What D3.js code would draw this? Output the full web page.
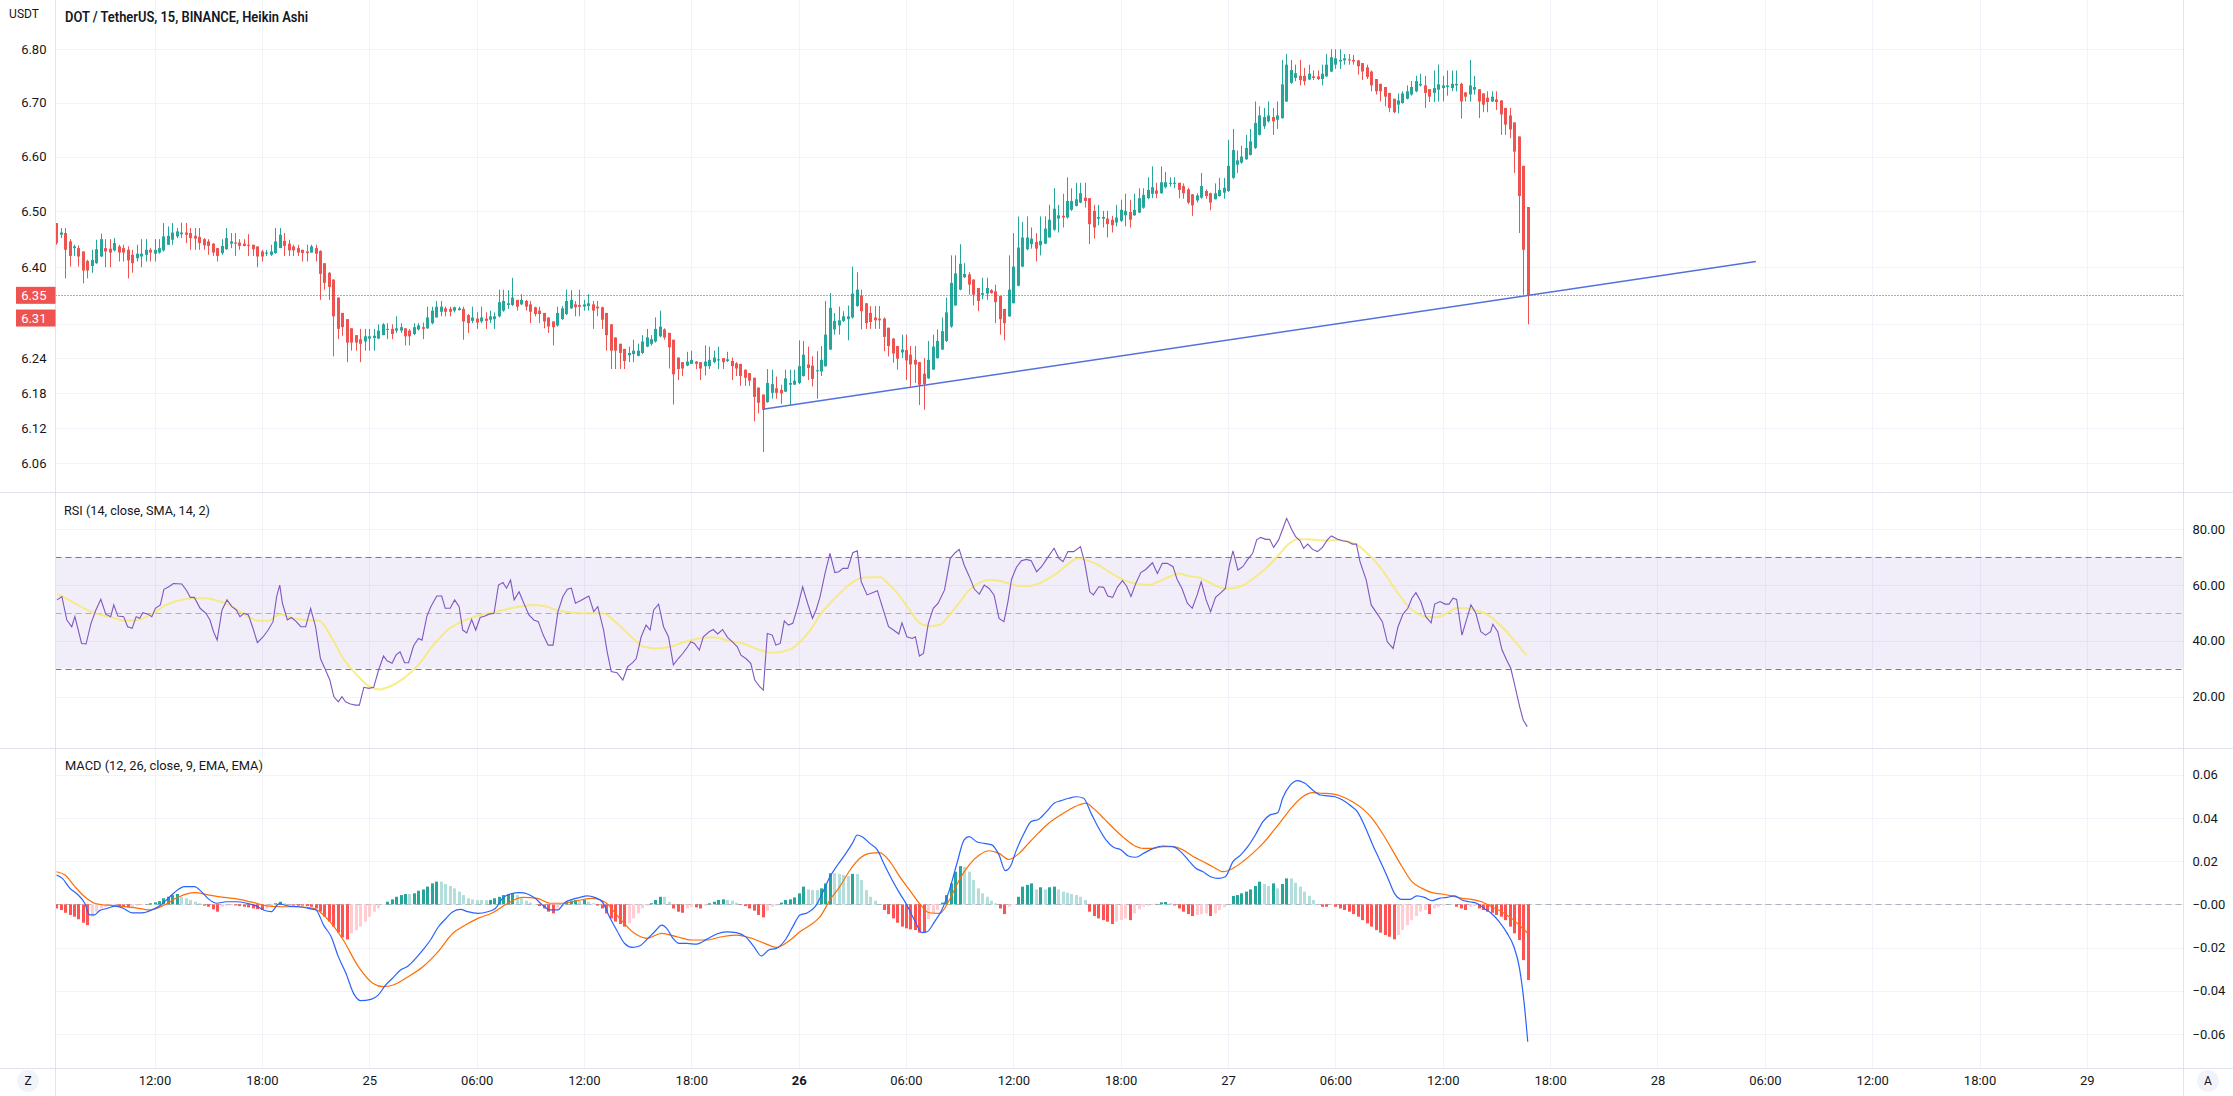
<!DOCTYPE html>
<html>
<head>
<meta charset="utf-8">
<script src="https://cdn.jsdelivr.net/npm/d3@7"></script>
<style>
  body { margin: 0; background: #fff; }
  svg { display: block; }
</style>
</head>
<body>
<svg id="chart"></svg>
<script>
// ---- data (Heikin Ashi, 15 min bars, first bar 24th 06:30) ----
const haOpen = [
  6.479,6.458,6.461,6.446,6.434,6.434,6.428,6.411,6.402,6.407,
  6.419,6.434,6.433,6.430,6.437,6.434,6.431,6.422,6.416,6.419,
  6.422,6.431,6.424,6.426,6.430,6.440,6.449,6.455,6.459,6.462,
  6.461,6.456,6.454,6.450,6.446,6.442,6.434,6.425,6.432,6.442,
  6.444,6.444,6.442,6.440,6.440,6.437,6.428,6.424,6.422,6.425,
  6.434,6.447,6.442,6.437,6.434,6.431,6.428,6.426,6.434,6.429,
  6.407,6.390,6.378,6.346,6.319,6.308,6.292,6.280,6.273,6.269,
  6.274,6.275,6.274,6.280,6.290,6.291,6.288,6.288,6.292,6.288,
  6.282,6.290,6.294,6.292,6.301,6.311,6.321,6.327,6.326,6.323,
  6.324,6.326,6.315,6.305,6.309,6.304,6.309,6.307,6.308,6.313,
  6.323,6.333,6.333,6.342,6.334,6.340,6.334,6.329,6.323,6.319,
  6.311,6.304,6.297,6.308,6.317,6.327,6.334,6.333,6.330,6.331,
  6.334,6.330,6.329,6.319,6.299,6.276,6.265,6.256,6.245,6.247,
  6.244,6.249,6.260,6.265,6.269,6.278,6.290,6.284,6.272,6.241,
  6.233,6.227,6.230,6.234,6.233,6.226,6.226,6.233,6.236,6.240,
  6.235,6.235,6.231,6.230,6.220,6.214,6.206,6.189,6.177,6.164,
  6.180,6.188,6.185,6.182,6.194,6.194,6.197,6.209,6.229,6.227,
  6.217,6.217,6.226,6.255,6.290,6.297,6.305,6.308,6.311,6.331,
  6.349,6.336,6.319,6.311,6.309,6.309,6.293,6.274,6.261,6.250,
  6.254,6.246,6.237,6.233,6.213,6.205,6.220,6.240,6.255,6.270,
  6.295,6.332,6.360,6.382,6.387,6.378,6.363,6.351,6.353,6.359,
  6.357,6.349,6.326,6.313,6.336,6.367,6.401,6.432,6.441,6.445,
  6.439,6.442,6.453,6.467,6.487,6.492,6.489,6.503,6.510,6.516,
  6.525,6.524,6.501,6.487,6.487,6.487,6.485,6.480,6.483,6.493,
  6.499,6.493,6.498,6.507,6.524,6.532,6.538,6.533,6.544,6.550,
  6.550,6.552,6.546,6.540,6.531,6.520,6.525,6.537,6.533,6.522,
  6.528,6.534,6.537,6.561,6.585,6.589,6.595,6.603,6.616,6.640,
  6.656,6.665,6.673,6.668,6.671,6.702,6.737,6.746,6.750,6.750,
  6.743,6.749,6.749,6.744,6.749,6.758,6.771,6.777,6.779,6.781,
  6.780,6.779,6.774,6.766,6.758,6.744,6.735,6.729,6.718,6.707,
  6.696,6.699,6.707,6.715,6.721,6.732,6.732,6.725,6.718,6.724,
  6.727,6.729,6.727,6.732,6.735,6.719,6.715,6.724,6.725,6.717,
  6.709,6.702,6.706,6.704,6.690,6.676,6.663,6.637,6.583,6.508
]
const haHigh = [
  6.479,6.470,6.470,6.450,6.440,6.439,6.428,6.413,6.431,6.449,
  6.460,6.450,6.450,6.452,6.440,6.440,6.437,6.431,6.440,6.450,
  6.450,6.434,6.450,6.450,6.479,6.473,6.479,6.470,6.480,6.479,
  6.470,6.470,6.470,6.452,6.450,6.443,6.434,6.450,6.470,6.461,
  6.461,6.450,6.450,6.459,6.440,6.437,6.431,6.431,6.440,6.470,
  6.470,6.461,6.449,6.440,6.440,6.431,6.440,6.440,6.440,6.430,
  6.407,6.391,6.378,6.346,6.319,6.308,6.292,6.280,6.291,6.291,
  6.291,6.291,6.299,6.301,6.301,6.299,6.313,6.301,6.292,6.291,
  6.301,6.301,6.302,6.330,6.330,6.340,6.340,6.330,6.330,6.330,
  6.330,6.330,6.317,6.330,6.320,6.330,6.320,6.323,6.320,6.360,
  6.360,6.359,6.381,6.342,6.352,6.342,6.340,6.330,6.330,6.319,
  6.311,6.304,6.330,6.331,6.360,6.359,6.340,6.360,6.342,6.352,
  6.340,6.340,6.330,6.319,6.299,6.276,6.265,6.256,6.260,6.272,
  6.265,6.280,6.291,6.280,6.311,6.323,6.292,6.284,6.272,6.241,
  6.233,6.251,6.253,6.235,6.233,6.262,6.260,6.253,6.260,6.240,
  6.251,6.241,6.233,6.230,6.220,6.214,6.206,6.189,6.177,6.221,
  6.220,6.208,6.194,6.220,6.220,6.220,6.271,6.270,6.260,6.243,
  6.252,6.261,6.340,6.354,6.319,6.330,6.322,6.332,6.401,6.391,
  6.360,6.336,6.331,6.331,6.331,6.311,6.293,6.275,6.261,6.281,
  6.281,6.261,6.261,6.233,6.240,6.270,6.281,6.290,6.311,6.346,
  6.421,6.421,6.441,6.407,6.391,6.378,6.363,6.381,6.381,6.361,
  6.369,6.349,6.326,6.421,6.461,6.491,6.481,6.491,6.471,6.461,
  6.491,6.491,6.512,6.542,6.512,6.532,6.562,6.542,6.552,6.552,
  6.552,6.524,6.512,6.512,6.501,6.501,6.492,6.512,6.521,6.532,
  6.521,6.532,6.542,6.542,6.562,6.582,6.552,6.582,6.572,6.562,
  6.562,6.552,6.551,6.543,6.531,6.533,6.570,6.540,6.534,6.551,
  6.561,6.561,6.631,6.651,6.611,6.620,6.640,6.651,6.702,6.693,
  6.690,6.702,6.690,6.702,6.780,6.791,6.780,6.771,6.780,6.765,
  6.771,6.760,6.760,6.771,6.791,6.800,6.800,6.800,6.791,6.791,
  6.789,6.780,6.774,6.771,6.760,6.744,6.735,6.729,6.718,6.707,
  6.717,6.721,6.732,6.740,6.750,6.754,6.750,6.725,6.760,6.771,
  6.750,6.760,6.760,6.760,6.737,6.719,6.780,6.750,6.725,6.717,
  6.721,6.721,6.721,6.704,6.690,6.690,6.663,6.637,6.583,6.508
]
const haLow = [
  6.440,6.452,6.380,6.401,6.420,6.401,6.371,6.380,6.390,6.406,
  6.418,6.400,6.400,6.428,6.410,6.410,6.380,6.390,6.410,6.400,
  6.410,6.410,6.410,6.424,6.428,6.440,6.440,6.452,6.452,6.443,
  6.431,6.431,6.431,6.431,6.422,6.420,6.410,6.422,6.431,6.434,
  6.420,6.431,6.437,6.420,6.420,6.400,6.410,6.420,6.420,6.424,
  6.434,6.420,6.420,6.420,6.420,6.410,6.410,6.426,6.410,6.342,
  6.360,6.342,6.243,6.273,6.279,6.233,6.253,6.253,6.233,6.253,
  6.253,6.253,6.273,6.280,6.273,6.273,6.284,6.284,6.262,6.262,
  6.280,6.288,6.273,6.291,6.299,6.311,6.313,6.313,6.313,6.320,
  6.323,6.272,6.284,6.301,6.291,6.301,6.291,6.301,6.291,6.311,
  6.321,6.326,6.331,6.323,6.333,6.323,6.301,6.313,6.301,6.292,
  6.284,6.262,6.295,6.307,6.315,6.326,6.313,6.313,6.323,6.323,
  6.291,6.313,6.291,6.253,6.221,6.221,6.221,6.221,6.233,6.233,
  6.243,6.247,6.259,6.262,6.267,6.276,6.272,6.222,6.160,6.202,
  6.209,6.226,6.230,6.221,6.202,6.210,6.221,6.231,6.221,6.221,
  6.233,6.202,6.209,6.192,6.192,6.192,6.131,6.145,6.079,6.163,
  6.170,6.170,6.161,6.182,6.159,6.194,6.195,6.208,6.202,6.191,
  6.170,6.209,6.225,6.254,6.281,6.281,6.303,6.271,6.309,6.330,
  6.290,6.291,6.291,6.291,6.291,6.252,6.243,6.232,6.220,6.240,
  6.202,6.191,6.197,6.159,6.151,6.204,6.220,6.239,6.254,6.268,
  6.293,6.332,6.359,6.381,6.351,6.332,6.322,6.343,6.342,6.353,
  6.301,6.281,6.271,6.312,6.336,6.366,6.400,6.430,6.433,6.410,
  6.421,6.441,6.453,6.465,6.462,6.471,6.487,6.501,6.509,6.515,
  6.507,6.441,6.451,6.475,6.471,6.453,6.462,6.473,6.481,6.473,
  6.471,6.492,6.497,6.505,6.522,6.524,6.524,6.532,6.542,6.545,
  6.542,6.524,6.523,6.513,6.492,6.516,6.523,6.523,6.502,6.522,
  6.527,6.523,6.535,6.559,6.570,6.587,6.594,6.602,6.614,6.639,
  6.651,6.663,6.640,6.651,6.670,6.701,6.735,6.740,6.732,6.732,
  6.742,6.742,6.742,6.732,6.748,6.757,6.763,6.763,6.771,6.771,
  6.771,6.752,6.742,6.744,6.721,6.715,6.702,6.693,6.682,6.680,
  6.680,6.698,6.706,6.713,6.719,6.730,6.690,6.701,6.701,6.702,
  6.702,6.713,6.721,6.721,6.670,6.702,6.702,6.715,6.671,6.682,
  6.682,6.701,6.686,6.640,6.640,6.634,6.570,6.461,6.351,6.299
]
const haClose = [
  6.443,6.462,6.431,6.420,6.437,6.419,6.394,6.394,6.413,6.432,
  6.450,6.428,6.426,6.443,6.426,6.426,6.412,6.407,6.424,6.424,
  6.431,6.426,6.431,6.434,6.455,6.456,6.462,6.464,6.462,6.458,
  6.452,6.451,6.443,6.439,6.438,6.426,6.420,6.438,6.452,6.446,
  6.442,6.438,6.438,6.438,6.432,6.419,6.419,6.426,6.428,6.446,
  6.458,6.438,6.430,6.430,6.426,6.425,6.425,6.437,6.424,6.388,
  6.372,6.365,6.313,6.291,6.294,6.267,6.267,6.267,6.265,6.278,
  6.278,6.279,6.288,6.299,6.291,6.282,6.292,6.294,6.278,6.278,
  6.294,6.297,6.291,6.311,6.323,6.330,6.330,6.321,6.321,6.329,
  6.327,6.304,6.301,6.311,6.302,6.311,6.305,6.313,6.313,6.338,
  6.340,6.336,6.346,6.330,6.342,6.330,6.321,6.317,6.317,6.304,
  6.295,6.294,6.319,6.327,6.340,6.342,6.329,6.330,6.334,6.336,
  6.323,6.327,6.307,6.280,6.253,6.253,6.249,6.235,6.249,6.253,
  6.253,6.269,6.276,6.273,6.291,6.295,6.276,6.259,6.212,6.221,
  6.222,6.234,6.237,6.230,6.222,6.234,6.237,6.241,6.238,6.233,
  6.238,6.226,6.222,6.209,6.206,6.201,6.173,6.163,6.151,6.197,
  6.195,6.180,6.179,6.205,6.197,6.201,6.226,6.246,6.223,6.204,
  6.219,6.237,6.281,6.328,6.305,6.306,6.313,6.313,6.353,6.360,
  6.322,6.301,6.303,6.306,6.306,6.277,6.261,6.248,6.239,6.255,
  6.236,6.229,6.229,6.194,6.195,6.237,6.260,6.270,6.287,6.320,
  6.372,6.389,6.406,6.388,6.369,6.351,6.340,6.354,6.363,6.354,
  6.338,6.308,6.301,6.360,6.401,6.435,6.453,6.453,6.451,6.433,
  6.447,6.469,6.485,6.505,6.493,6.489,6.519,6.519,6.522,6.533,
  6.519,6.477,6.471,6.490,6.490,6.477,6.475,6.489,6.503,6.501,
  6.485,6.503,6.524,6.530,6.539,6.544,6.532,6.553,6.553,6.552,
  6.552,6.539,6.533,6.516,6.511,6.529,6.546,6.528,6.516,6.533,
  6.539,6.543,6.583,6.612,6.593,6.600,6.616,6.628,6.662,6.676,
  6.673,6.676,6.665,6.676,6.734,6.771,6.761,6.755,6.742,6.740,
  6.754,6.746,6.744,6.754,6.771,6.785,6.783,6.780,6.783,6.779,
  6.777,6.768,6.758,6.748,6.732,6.721,6.721,6.711,6.690,6.682,
  6.704,6.717,6.721,6.729,6.740,6.735,6.718,6.711,6.727,6.734,
  6.732,6.732,6.735,6.735,6.702,6.711,6.732,6.729,6.702,6.696,
  6.701,6.711,6.701,6.678,6.659,6.650,6.609,6.528,6.431,6.349
]

// RSI (14) and its SMA: [bar position, value]
const rsiLine = [
  [0.2,54.6],[1.3,55.8],[2.4,47.4],[3.5,45.0],[4.2,48.6],[5.7,39.0],[6.7,38.8],[7.8,46.2],[8.9,51.0],[10.0,54.8],
  [11.1,49.5],[12.2,48.6],[12.9,52.8],[13.8,48.8],[15.1,48.6],[16.0,45.0],[17.0,44.4],[17.9,48.6],[18.7,48.0],[19.4,50.0],
  [20.5,49.5],[21.4,48.6],[22.2,51.6],[23.3,52.8],[24.1,58.4],[25.2,59.3],[26.2,60.5],[28.1,60.3],[29.2,57.9],[30.0,55.5],
  [30.9,55.5],[32.2,51.6],[33.5,49.8],[34.4,47.4],[35.2,43.2],[36.0,40.2],[37.1,51.0],[38.2,54.6],[39.3,52.2],[40.3,51.0],
  [41.1,48.6],[42.0,49.8],[43.0,49.2],[43.9,45.0],[45.0,39.3],[46.3,41.4],[47.4,43.8],[48.5,46.8],[49.3,55.8],[50.0,59.9],
  [50.6,53.4],[51.7,47.4],[52.6,48.3],[53.7,46.8],[54.7,45.0],[55.8,45.0],[56.9,51.6],[58.0,45.0],[59.1,33.6],[60.4,28.9],
  [61.2,25.9],[62.1,19.9],[63.1,18.1],[63.9,19.9],[64.7,18.1],[65.8,17.3],[66.9,16.9],[67.8,16.9],[68.8,23.3],[69.9,22.9],
  [71.0,23.3],[72.1,29.5],[73.2,34.5],[74.0,32.8],[75.1,31.9],[76.0,34.9],[76.9,36.0],[77.9,32.1],[78.8,32.1],[79.9,38.1],
  [81.0,40.8],[81.8,40.2],[82.9,48.8],[83.8,52.2],[85.1,56.0],[86.2,56.0],[87.0,51.6],[88.1,51.6],[89.1,54.6],[90.1,52.2],
  [90.9,43.8],[91.8,42.8],[92.9,47.6],[93.8,43.8],[94.8,48.3],[95.9,48.8],[96.8,49.5],[97.9,49.8],[98.9,59.9],[99.9,60.8],
  [100.7,58.8],[101.6,61.7],[102.4,54.6],[103.5,57.5],[104.4,54.0],[105.7,49.2],[106.8,47.4],[107.8,46.8],[108.9,42.0],[110.0,38.4],
  [111.1,38.4],[112.2,50.4],[113.3,55.8],[114.3,58.4],[115.2,58.8],[116.1,53.4],[117.2,54.3],[118.2,55.2],[119.1,56.0],[120.2,50.4],
  [121.1,52.2],[122.4,43.8],[123.2,36.0],[124.1,28.9],[125.4,28.5],[126.7,25.9],[127.8,30.7],[128.9,32.1],[129.7,33.6],[130.8,41.4],
  [131.9,45.6],[132.8,43.8],[133.6,51.0],[134.7,53.1],[135.8,45.0],[136.9,41.4],[138.0,31.3],[139.1,33.6],[140.1,35.4],[141.2,37.8],
  [141.9,39.6],[142.7,39.0],[143.8,36.6],[144.7,41.4],[146.0,43.2],[146.9,44.0],[147.9,42.4],[149.0,44.0],[150.1,41.2],[151.2,39.6],
  [152.3,37.8],[153.1,34.8],[154.2,33.6],[155.3,31.9],[156.2,25.9],[157.3,23.5],[158.1,22.3],[159.0,42.6],[160.1,42.0],[160.9,38.4],
  [161.9,39.0],[162.8,47.1],[163.7,45.6],[164.7,46.2],[165.8,52.2],[166.9,59.3],[168.0,53.4],[169.1,48.0],[169.9,51.0],[170.8,55.8],
  [171.9,64.1],[173.0,71.3],[174.1,64.4],[175.0,64.7],[175.9,65.9],[177.0,65.9],[178.1,71.5],[179.1,72.2],[180.0,61.1],[181.3,56.4],
  [182.5,57.2],[183.6,57.9],[184.7,52.2],[186.1,45.0],[187.2,43.8],[188.4,42.4],[189.1,46.4],[190.2,41.4],[191.4,40.8],[192.1,41.4],
  [193.0,34.5],[193.9,35.4],[195.0,46.2],[196.1,51.6],[197.2,53.4],[198.6,58.1],[199.9,69.5],[201.0,71.5],[201.9,72.7],[203.0,67.1],
  [204.1,63.2],[205.3,58.4],[206.4,56.7],[207.5,59.9],[208.6,58.7],[209.7,56.3],[210.8,48.0],[211.9,46.8],[212.8,54.0],[213.6,62.0],
  [214.7,66.3],[215.8,68.6],[216.9,69.1],[218.0,68.6],[219.2,64.7],[220.3,66.5],[221.4,69.1],[223.1,73.1],[224.2,69.5],[225.1,68.3],
  [226.2,71.9],[227.5,71.9],[229.0,73.7],[229.9,68.3],[231.1,57.5],[231.9,56.4],[233.1,59.3],[234.2,59.1],[235.1,56.0],[236.2,55.5],
  [237.3,59.3],[238.4,61.5],[239.3,59.6],[240.3,55.8],[241.4,60.6],[242.5,64.4],[243.6,65.5],[245.1,67.9],[246.2,64.1],[247.3,67.7],
  [248.4,67.7],[249.7,66.5],[250.6,62.0],[251.7,58.7],[252.9,53.4],[254.0,51.6],[255.1,56.4],[256.0,61.1],[257.1,54.6],[258.1,50.4],
  [259.2,55.5],[260.3,57.0],[261.4,58.7],[262.3,67.1],[263.1,72.2],[264.2,65.3],[265.3,66.5],[266.4,69.1],[267.5,71.3],[268.4,76.1],
  [269.3,77.0],[270.4,76.3],[271.3,76.3],[272.2,73.4],[273.3,76.1],[274.2,79.9],[275.1,83.8],[276.2,79.9],[277.1,77.3],[278.1,75.8],
  [278.9,73.1],[279.8,74.6],[280.9,72.7],[282.0,71.9],[283.1,73.4],[284.2,76.1],[285.1,77.5],[286.5,76.3],[287.6,75.8],[288.7,75.5],
  [289.8,74.6],[290.7,74.6],[291.5,68.3],[292.9,61.7],[294.0,52.8],[295.4,49.5],[296.5,46.8],[297.6,39.6],[298.9,37.2],[300.0,45.0],
  [301.1,49.5],[302.2,51.6],[303.1,55.2],[304.0,57.2],[305.1,54.0],[306.2,48.6],[307.4,46.4],[308.2,53.1],[309.4,54.0],[310.5,53.1],
  [311.4,53.1],[312.3,55.2],[313.1,54.8],[314.3,42.0],[315.4,48.0],[316.3,52.8],[317.4,49.8],[318.5,43.2],[319.6,42.0],[320.7,43.2],
  [321.2,45.9],[322.3,43.2],[323.2,36.9],[324.3,33.0],[325.2,30.1],[326.0,24.7],[327.2,16.3],[328.0,11.5],[328.9,9.2]
]
const rsiMa = [
  [0.2,56.7],[2.9,54.6],[6.2,51.6],[9.4,49.5],[12.7,48.2],[15.4,47.1],[18.1,47.4],[21.4,49.5],[24.6,52.8],[27.9,54.6],
  [31.1,55.2],[33.3,55.2],[35.5,54.6],[38.7,52.8],[42.0,49.5],[45.2,47.1],[47.4,47.1],[50.1,49.5],[52.8,48.0],[56.0,47.4],
  [58.8,47.1],[61.5,41.4],[64.2,33.6],[66.9,28.3],[70.1,23.5],[72.3,22.5],[74.5,23.5],[77.7,26.5],[81.0,31.3],[84.2,38.1],
  [87.5,43.8],[90.7,46.8],[94.0,48.8],[97.2,50.0],[100.5,51.2],[103.7,52.2],[107.0,52.8],[109.7,52.2],[112.4,50.7],[115.6,50.0],
  [118.9,49.8],[122.2,49.8],[125.4,46.2],[128.6,41.4],[131.4,37.8],[134.1,37.2],[137.3,37.8],[140.6,39.6],[143.8,40.8],[147.1,41.2],
  [150.3,40.0],[153.6,39.0],[156.8,36.9],[160.1,35.7],[164.1,36.9],[166.3,39.6],[168.6,43.8],[170.8,49.2],[173.0,53.4],[175.2,57.0],
  [177.5,60.3],[179.7,62.3],[181.9,62.7],[184.1,62.7],[186.4,59.9],[188.6,56.0],[190.8,51.0],[193.0,46.4],[195.2,45.2],[197.5,45.6],
  [199.7,49.2],[201.9,53.6],[204.1,58.1],[206.4,60.8],[208.6,61.7],[210.8,61.5],[213.0,60.5],[215.3,59.6],[217.5,59.6],[219.7,60.5],
  [221.9,62.3],[224.2,64.7],[226.4,67.7],[228.6,69.5],[230.8,68.6],[233.1,67.1],[235.3,64.7],[237.5,62.7],[239.7,61.1],[242.0,60.3],
  [244.2,59.9],[246.4,61.1],[248.6,62.7],[250.9,64.1],[253.1,63.2],[255.3,62.7],[257.5,61.1],[259.8,59.3],[262.0,58.7],[264.2,59.1],
  [266.4,60.8],[268.6,63.5],[270.9,66.5],[273.1,70.3],[275.3,74.3],[277.6,76.3],[279.8,76.3],[282.0,76.1],[284.2,75.8],[286.5,76.1],
  [288.7,75.5],[290.9,74.3],[293.1,71.3],[295.3,67.7],[297.6,62.7],[299.8,57.5],[302.0,52.8],[304.2,49.8],[306.5,48.6],[308.7,48.4],
  [310.9,49.8],[313.1,51.6],[315.4,51.6],[317.6,50.7],[319.8,49.5],[322.0,46.8],[324.3,43.2],[326.5,39.0],[328.7,34.8]
]

// MACD (12, 26, 9): [bar position, value]
const macdLine = [
  [0.1,0.0136],[1.4,0.0120],[3.1,0.0074],[4.7,0.0048],[6.4,0.0005],[7.5,-0.0049],[8.6,-0.0049],[9.7,-0.0029],[11.4,-0.0019],[13.3,-0.0008],
  [15.1,-0.0019],[17.0,-0.0039],[19.2,-0.0039],[21.4,-0.0026],[23.1,-0.0008],[24.8,0.0023],[26.4,0.0054],[28.7,0.0082],[30.9,0.0082],[32.5,0.0059],
  [34.2,0.0023],[35.9,0.0005],[38.1,0.0012],[40.3,0.0012],[42.6,0.0005],[44.8,-0.0008],[46.4,-0.0026],[48.1,-0.0034],[49.8,0.0002],[52.0,-0.0008],
  [54.2,-0.0011],[56.5,-0.0019],[58.1,-0.0026],[59.8,-0.0096],[61.5,-0.0150],[63.1,-0.0242],[64.8,-0.0319],[66.5,-0.0412],[68.1,-0.0446],[70.4,-0.0440],
  [72.0,-0.0420],[73.7,-0.0373],[75.4,-0.0338],[77.0,-0.0304],[78.7,-0.0285],[80.4,-0.0250],[82.0,-0.0211],[83.7,-0.0165],[85.4,-0.0106],[87.0,-0.0069],
  [88.7,-0.0034],[90.4,-0.0023],[92.0,-0.0034],[94.3,-0.0042],[96.5,-0.0034],[98.2,-0.0019],[99.8,0.0028],[101.5,0.0048],[103.7,0.0054],[105.4,0.0048],
  [107.1,0.0028],[108.7,-0.0003],[110.4,-0.0026],[112.1,-0.0026],[113.7,0.0008],[115.4,0.0023],[117.1,0.0032],[118.7,0.0039],[120.4,0.0032],[122.1,0.0012],
  [123.7,-0.0057],[125.4,-0.0122],[127.1,-0.0181],[128.8,-0.0199],[130.4,-0.0193],[132.1,-0.0162],[133.8,-0.0127],[135.4,-0.0096],[136.5,-0.0111],[137.9,-0.0157],
  [139.3,-0.0181],[141.0,-0.0181],[143.2,-0.0184],[145.4,-0.0162],[147.7,-0.0137],[149.9,-0.0127],[152.1,-0.0131],[154.3,-0.0153],[156.0,-0.0196],[157.7,-0.0239],
  [159.3,-0.0211],[161.0,-0.0204],[163.0,-0.0165],[164.7,-0.0103],[166.3,-0.0049],[168.0,-0.0039],[169.7,-0.0011],[171.3,0.0051],[173.0,0.0128],[174.7,0.0182],
  [176.3,0.0228],[178.0,0.0282],[179.1,0.0321],[180.2,0.0313],[181.9,0.0282],[183.6,0.0252],[185.2,0.0182],[186.9,0.0113],[188.6,0.0051],[190.2,-0.0003],
  [191.9,-0.0073],[193.6,-0.0131],[194.7,-0.0127],[196.4,-0.0080],[198.0,-0.0026],[199.7,0.0066],[201.4,0.0190],[203.0,0.0298],[204.1,0.0313],[205.8,0.0290],
  [207.5,0.0282],[209.2,0.0275],[210.8,0.0228],[212.2,0.0156],[213.3,0.0174],[214.7,0.0252],[216.4,0.0329],[218.0,0.0383],[219.7,0.0394],[221.4,0.0429],
  [223.1,0.0468],[224.7,0.0480],[226.4,0.0491],[228.1,0.0498],[229.7,0.0491],[231.4,0.0421],[233.1,0.0352],[234.7,0.0298],[236.4,0.0264],[238.1,0.0252],
  [239.7,0.0224],[241.4,0.0218],[243.1,0.0236],[245.3,0.0259],[247.5,0.0270],[249.7,0.0267],[251.4,0.0244],[253.1,0.0205],[254.8,0.0167],[256.4,0.0151],
  [258.1,0.0128],[259.8,0.0120],[261.4,0.0128],[263.1,0.0198],[264.8,0.0228],[266.4,0.0267],[268.1,0.0321],[269.8,0.0383],[271.4,0.0414],[273.1,0.0424],
  [274.2,0.0491],[275.9,0.0552],[277.6,0.0573],[279.2,0.0560],[280.9,0.0529],[282.6,0.0506],[284.2,0.0502],[285.9,0.0498],[287.6,0.0483],[289.2,0.0460],
  [290.9,0.0429],[292.6,0.0360],[294.2,0.0282],[295.9,0.0205],[297.6,0.0128],[299.2,0.0051],[300.9,0.0023],[302.6,0.0023],[304.2,0.0039],[305.9,0.0032],
  [307.6,0.0017],[309.2,0.0028],[310.9,0.0032],[312.6,0.0039],[314.3,0.0020],[315.9,0.0012],[317.6,0.0005],[319.3,-0.0019],[320.9,-0.0042],[322.6,-0.0080],
  [324.3,-0.0131],[325.9,-0.0196],[327.1,-0.0289],[328.2,-0.0458],[329.0,-0.0636]
]
const macdSignal = [
  [0.1,0.0151],[2.0,0.0136],[4.2,0.0082],[6.4,0.0035],[8.6,0.0005],[10.9,-0.0003],[14.2,-0.0008],[17.5,-0.0015],[20.9,-0.0026],[24.2,-0.0003],
  [27.5,0.0035],[30.9,0.0054],[34.2,0.0043],[37.5,0.0032],[40.9,0.0023],[44.2,0.0008],[47.6,-0.0008],[50.9,-0.0011],[54.2,-0.0011],[57.6,-0.0019],
  [60.9,-0.0073],[64.2,-0.0165],[67.6,-0.0289],[70.9,-0.0366],[73.1,-0.0381],[75.4,-0.0373],[78.7,-0.0335],[82.0,-0.0289],[85.4,-0.0219],[88.7,-0.0134],
  [91.5,-0.0096],[94.3,-0.0065],[97.6,-0.0039],[101.0,0.0005],[104.3,0.0032],[107.6,0.0028],[110.4,0.0005],[113.2,0.0005],[116.5,0.0017],[119.9,0.0028],
  [122.6,0.0012],[126.0,-0.0065],[129.3,-0.0134],[132.1,-0.0157],[135.4,-0.0134],[138.8,-0.0150],[142.1,-0.0165],[145.4,-0.0165],[148.8,-0.0150],[152.1,-0.0142],
  [155.5,-0.0157],[158.8,-0.0184],[161.0,-0.0199],[164.1,-0.0165],[166.3,-0.0127],[168.6,-0.0096],[170.8,-0.0057],[173.0,0.0020],[175.2,0.0082],[177.5,0.0159],
  [179.7,0.0213],[181.9,0.0236],[184.1,0.0239],[186.4,0.0198],[188.6,0.0128],[190.8,0.0066],[193.0,0.0005],[195.2,-0.0039],[197.5,-0.0042],[199.7,0.0020],
  [201.9,0.0113],[204.1,0.0182],[206.4,0.0228],[208.6,0.0248],[210.8,0.0236],[213.0,0.0208],[215.3,0.0236],[217.5,0.0285],[219.7,0.0332],[221.9,0.0375],
  [224.2,0.0409],[226.4,0.0437],[228.6,0.0460],[230.3,0.0468],[231.9,0.0444],[234.2,0.0398],[236.4,0.0352],[238.6,0.0310],[240.8,0.0275],[243.1,0.0259],
  [245.3,0.0259],[247.5,0.0267],[249.7,0.0267],[251.9,0.0252],[254.2,0.0221],[256.4,0.0198],[258.6,0.0174],[260.9,0.0151],[263.1,0.0167],[265.3,0.0198],
  [267.5,0.0236],[269.8,0.0282],[272.0,0.0336],[274.2,0.0394],[276.4,0.0452],[278.7,0.0498],[280.9,0.0517],[283.1,0.0514],[285.3,0.0511],[287.6,0.0498],
  [289.8,0.0475],[292.0,0.0444],[294.2,0.0398],[296.5,0.0329],[298.7,0.0252],[300.9,0.0174],[303.1,0.0105],[305.4,0.0074],[307.6,0.0054],[309.8,0.0048],
  [312.0,0.0039],[314.3,0.0028],[316.5,0.0023],[318.7,0.0012],[320.9,-0.0011],[323.2,-0.0034],[325.4,-0.0065],[327.6,-0.0106],[329.0,-0.0134]
]
// histogram, one value per bar
const macdHist = [
  -0.0019,-0.0026,-0.0039,-0.0049,-0.0057,-0.0069,-0.0085,-0.0096,-0.0057,-0.0034,
  -0.0019,-0.0011,-0.0008,-0.0006,-0.0008,-0.0011,-0.0014,-0.0011,-0.0006,-0.0003,
  0.0001,0.0005,0.0009,0.0015,0.0028,0.0035,0.0043,0.0048,0.0035,0.0028,
  0.0020,0.0012,0.0005,-0.0006,-0.0011,-0.0023,-0.0034,-0.0011,-0.0006,-0.0005,
  -0.0005,-0.0008,-0.0011,-0.0014,-0.0019,-0.0022,-0.0026,-0.0019,-0.0011,0.0005,
  0.0012,0.0005,0.0000,-0.0005,-0.0006,-0.0006,-0.0008,-0.0011,-0.0019,-0.0034,
  -0.0057,-0.0080,-0.0103,-0.0131,-0.0153,-0.0162,-0.0134,-0.0119,-0.0103,-0.0080,
  -0.0057,-0.0034,-0.0019,0.0000,0.0012,0.0023,0.0035,0.0043,0.0048,0.0048,
  0.0051,0.0063,0.0069,0.0082,0.0097,0.0105,0.0105,0.0094,0.0085,0.0074,
  0.0059,0.0043,0.0028,0.0023,0.0020,0.0020,0.0019,0.0020,0.0028,0.0035,
  0.0043,0.0048,0.0051,0.0043,0.0028,0.0017,0.0008,0.0000,-0.0008,-0.0019,
  -0.0034,-0.0042,-0.0019,-0.0008,0.0012,0.0017,0.0020,0.0017,0.0020,0.0012,
  0.0005,-0.0006,-0.0019,-0.0042,-0.0065,-0.0080,-0.0091,-0.0103,-0.0088,-0.0065,
  -0.0042,-0.0019,-0.0006,0.0005,0.0020,0.0035,0.0035,0.0012,-0.0019,-0.0034,
  -0.0039,-0.0019,-0.0011,-0.0014,-0.0019,-0.0006,0.0005,0.0012,0.0020,0.0023,
  0.0020,0.0017,0.0008,-0.0003,-0.0008,-0.0019,-0.0029,-0.0049,-0.0060,-0.0029,
  -0.0011,-0.0006,0.0008,0.0020,0.0023,0.0032,0.0051,0.0082,0.0069,0.0066,
  0.0066,0.0074,0.0097,0.0144,0.0144,0.0141,0.0136,0.0131,0.0141,0.0141,
  0.0113,0.0066,0.0035,0.0017,0.0000,-0.0026,-0.0045,-0.0065,-0.0085,-0.0103,
  -0.0111,-0.0116,-0.0119,-0.0131,-0.0131,-0.0069,-0.0042,-0.0026,0.0008,0.0043,
  0.0097,0.0151,0.0177,0.0174,0.0151,0.0113,0.0074,0.0051,0.0035,0.0017,
  0.0005,-0.0019,-0.0045,-0.0011,0.0000,0.0035,0.0082,0.0090,0.0097,0.0069,
  0.0079,0.0069,0.0079,0.0082,0.0069,0.0059,0.0054,0.0048,0.0043,0.0035,
  0.0020,-0.0034,-0.0054,-0.0065,-0.0073,-0.0080,-0.0091,-0.0080,-0.0073,-0.0065,
  -0.0073,-0.0042,-0.0023,-0.0011,-0.0006,-0.0003,0.0002,0.0009,0.0011,0.0005,
  -0.0005,-0.0019,-0.0034,-0.0045,-0.0054,-0.0049,-0.0045,-0.0042,-0.0054,-0.0042,
  -0.0026,-0.0014,0.0000,0.0039,0.0043,0.0051,0.0059,0.0069,0.0085,0.0105,
  0.0094,0.0085,0.0097,0.0074,0.0094,0.0120,0.0120,0.0100,0.0082,0.0059,
  0.0039,0.0020,0.0002,-0.0011,-0.0011,-0.0003,-0.0011,-0.0019,-0.0026,-0.0034,
  -0.0045,-0.0057,-0.0073,-0.0088,-0.0103,-0.0119,-0.0131,-0.0142,-0.0150,-0.0162,
  -0.0142,-0.0119,-0.0096,-0.0073,-0.0054,-0.0034,-0.0026,-0.0045,-0.0019,-0.0011,
  -0.0006,0.0001,0.0001,-0.0011,-0.0019,-0.0026,-0.0011,-0.0008,-0.0019,-0.0026,
  -0.0034,-0.0039,-0.0049,-0.0057,-0.0073,-0.0103,-0.0134,-0.0165,-0.0258,-0.0350
]

const priceGrid = [6.06, 6.12, 6.18, 6.24, 6.30, 6.40, 6.50, 6.60, 6.70, 6.80]
const priceTickLabels = [6.06, 6.12, 6.18, 6.24, 6.40, 6.50, 6.60, 6.70, 6.80] // 6.30 sits under the close tag
const rsiTicks = [20, 40, 60, 80]
const rsiLevels = [70, 50, 30]
const macdTicks = [-0.06, -0.04, -0.02, 0, 0.02, 0.04, 0.06]
const macdTickLabels = ["\u22120.06", "\u22120.04", "\u22120.02", "\u22120.00", "0.02", "0.04", "0.06"]
const boldDays = [26]
const trendLine = [[158, 6.152], [380, 6.410]]
const lastPrice = 6.35
const lastClose = 6.31

// ---- layout ----
const W = 2233, H = 1096
const left = 55.5, right = 2183.5
const paneMain = [0, 492], paneRsi = [492, 748], paneMacd = [748, 1068]
const FONT = "'Liberation Sans Narrow', Roboto, 'Noto Sans', sans-serif"
const up = "#26a69a", down = "#ef5350"

const firstBar = Date.UTC(2022, 4, 24, 6, 30)
const barMs = 15 * 60 * 1000
const barTime = b => new Date(firstBar + b * barMs)

const x = d3.scaleUtc()
    .domain([new Date(Date.UTC(2022, 4, 24, 6, 28)), new Date(Date.UTC(2022, 4, 29, 5, 24))])
    .range([left, right])
const yPrice = d3.scaleLog().domain([6.06, 6.80]).range([463.3, 49.3])
const yRsi = d3.scaleLinear().domain([20, 80]).range([696.5, 529])
const yMacd = d3.scaleLinear().domain([-0.06, 0.06]).range([1034, 774.7])

const crisp = v => Math.round(v) + 0.5

const svg = d3.select("#chart").attr("width", W).attr("height", H)
svg.append("rect").attr("width", W).attr("height", H).attr("fill", "#ffffff")

const defs = svg.append("defs")
const clip = (id, pane) => defs.append("clipPath").attr("id", id)
    .append("rect").attr("x", left).attr("y", pane[0]).attr("width", right - left).attr("height", pane[1] - pane[0])
clip("clipMain", paneMain)
clip("clipRsi", paneRsi)
clip("clipMacd", paneMacd)

// ---- grid ----
const timeTicks = x.ticks(d3.utcHour.every(6))
const grid = svg.append("g").attr("stroke", "#f0f3fa").attr("stroke-width", 1)
grid.append("g").selectAll("line").data(timeTicks).join("line")
    .attr("x1", d => crisp(x(d))).attr("x2", d => crisp(x(d)))
    .attr("y1", 0).attr("y2", paneMacd[1])
grid.append("g").selectAll("line").data(priceGrid).join("line")
    .attr("x1", left).attr("x2", right)
    .attr("y1", d => crisp(yPrice(d))).attr("y2", d => crisp(yPrice(d)))
grid.append("g").selectAll("line").data(rsiTicks).join("line")
    .attr("x1", left).attr("x2", right)
    .attr("y1", d => crisp(yRsi(d))).attr("y2", d => crisp(yRsi(d)))
grid.append("g").selectAll("line").data(macdTicks).join("line")
    .attr("x1", left).attr("x2", right)
    .attr("y1", d => crisp(yMacd(d))).attr("y2", d => crisp(yMacd(d)))

// ---- main pane: candles ----
const bars = haOpen.map((o, i) => ({ t: barTime(i), o: o, h: haHigh[i], l: haLow[i], c: haClose[i] }))
const main = svg.append("g").attr("clip-path", "url(#clipMain)")

main.append("g").selectAll("line").data(bars).join("line")
    .attr("x1", d => crisp(x(d.t))).attr("x2", d => crisp(x(d.t)))
    .attr("y1", d => yPrice(d.h)).attr("y2", d => yPrice(d.l))
    .attr("stroke", d => d.c >= d.o ? up : down)
    .attr("stroke-width", 1)

main.append("g").selectAll("rect").data(bars).join("rect")
    .attr("x", d => Math.round(x(d.t)) - 1)
    .attr("width", 3)
    .attr("y", d => yPrice(Math.max(d.o, d.c)))
    .attr("height", d => Math.max(1, yPrice(Math.min(d.o, d.c)) - yPrice(Math.max(d.o, d.c))))
    .attr("fill", d => d.c >= d.o ? up : down)

// last price line
main.append("line")
    .attr("x1", left).attr("x2", right)
    .attr("y1", crisp(yPrice(lastPrice))).attr("y2", crisp(yPrice(lastPrice)))
    .attr("stroke", "#b23a3a").attr("stroke-width", 1).attr("stroke-dasharray", "1,2")

// trend line drawing
main.append("line")
    .attr("x1", x(barTime(trendLine[0][0]))).attr("y1", yPrice(trendLine[0][1]))
    .attr("x2", x(barTime(trendLine[1][0]))).attr("y2", yPrice(trendLine[1][1]))
    .attr("stroke", "#5470dc").attr("stroke-width", 1.5)

// ---- RSI pane ----
const rsi = svg.append("g").attr("clip-path", "url(#clipRsi)")
rsi.append("rect")
    .attr("x", left).attr("width", right - left)
    .attr("y", yRsi(70)).attr("height", yRsi(30) - yRsi(70))
    .attr("fill", "rgba(126,87,194,0.1)")
rsi.append("g").selectAll("line").data(rsiLevels).join("line")
    .attr("x1", left).attr("x2", right)
    .attr("y1", d => crisp(yRsi(d))).attr("y2", d => crisp(yRsi(d)))
    .attr("stroke", d => d === 50 ? "rgba(120,123,134,0.55)" : "#787b86")
    .attr("stroke-dasharray", "6,4")

rsi.append("path").datum(rsiMa)
    .attr("d", d3.line().x(d => x(barTime(d[0]))).y(d => yRsi(d[1])).curve(d3.curveMonotoneX))
    .attr("fill", "none").attr("stroke", "#f6e86c").attr("stroke-width", 2).attr("stroke-opacity", 0.8)
rsi.append("path").datum(rsiLine)
    .attr("d", d3.line().x(d => x(barTime(d[0]))).y(d => yRsi(d[1])))
    .attr("fill", "none").attr("stroke", "#7e57c2").attr("stroke-width", 1.1)

// ---- MACD pane ----
const macd = svg.append("g").attr("clip-path", "url(#clipMacd)")
macd.append("line")
    .attr("x1", left).attr("x2", right)
    .attr("y1", crisp(yMacd(0))).attr("y2", crisp(yMacd(0)))
    .attr("stroke", "rgba(120,123,134,0.55)").attr("stroke-dasharray", "6,4")

const histColor = (v, i) => {
    const prev = i > 0 ? macdHist[i - 1] : v
    if (v >= 0) return prev < v ? "#26a69a" : "#b2dfdb"
    return prev < v ? "#ffcdd2" : "#ff5252"
}
macd.append("g").selectAll("rect").data(macdHist).join("rect")
    .attr("x", (d, i) => Math.round(x(barTime(i))) - 1)
    .attr("width", 3)
    .attr("y", d => Math.min(yMacd(d), yMacd(0)))
    .attr("height", d => Math.abs(yMacd(d) - yMacd(0)))
    .attr("fill", (d, i) => histColor(d, i))

const macdPath = d3.line().x(d => x(barTime(d[0]))).y(d => yMacd(d[1])).curve(d3.curveMonotoneX)
macd.append("path").datum(macdSignal).attr("d", macdPath)
    .attr("fill", "none").attr("stroke", "#ff6d00").attr("stroke-width", 1.2)
macd.append("path").datum(macdLine).attr("d", macdPath)
    .attr("fill", "none").attr("stroke", "#2962ff").attr("stroke-width", 1.2)

// ---- borders ----
const border = svg.append("g").attr("stroke", "#e0e3eb").attr("stroke-width", 1)
;[paneMain[1], paneRsi[1], paneMacd[1]].forEach(yv =>
    border.append("line").attr("x1", 0).attr("x2", W).attr("y1", yv + 0.5).attr("y2", yv + 0.5))
border.append("line").attr("x1", left).attr("x2", left).attr("y1", 0).attr("y2", H)
border.append("line").attr("x1", right).attr("x2", right).attr("y1", 0).attr("y2", H)

// ---- axes ----
const styleAxis = g => {
    g.select(".domain").remove()
    g.attr("font-family", FONT).attr("font-size", 13)
    g.selectAll("text").attr("fill", "#131722")
}
svg.append("g").attr("transform", `translate(${left},0)`)
    .call(d3.axisLeft(yPrice).tickValues(priceTickLabels).tickFormat(d3.format(".2f")).tickSize(0).tickPadding(9))
    .call(styleAxis)

svg.append("g").attr("transform", `translate(${right},0)`)
    .call(d3.axisRight(yRsi).tickValues(rsiTicks).tickFormat(d3.format(".2f")).tickSize(0).tickPadding(9))
    .call(styleAxis)

svg.append("g").attr("transform", `translate(${right},0)`)
    .call(d3.axisRight(yMacd).tickValues(macdTicks).tickFormat((d, i) => macdTickLabels[i]).tickSize(0).tickPadding(9))
    .call(styleAxis)

const timeFormat = d => d.getUTCHours() === 0 ? String(d.getUTCDate()) : d3.utcFormat("%H:%M")(d)
svg.append("g").attr("transform", `translate(0,${paneMacd[1]})`)
    .call(d3.axisBottom(x).tickValues(timeTicks).tickFormat(timeFormat).tickSize(0).tickPadding(8))
    .call(styleAxis)
    .call(g => g.selectAll(".tick text")
        .attr("font-weight", d => d.getUTCHours() === 0 && boldDays.includes(d.getUTCDate()) ? 700 : 400))

// price labels on the left scale
const priceTags = svg.append("g").attr("font-family", FONT).attr("font-size", 13)
;[lastPrice, lastClose].forEach(p => {
    const yv = yPrice(p)
    priceTags.append("rect")
        .attr("x", 16).attr("y", yv - 8.5).attr("width", left - 16).attr("height", 17)
        .attr("fill", "#ef5350")
    priceTags.append("text")
        .attr("x", left - 9).attr("y", yv).attr("dy", "0.35em")
        .attr("text-anchor", "end").attr("fill", "#ffffff")
        .text(p.toFixed(2))
})

// ---- titles ----
svg.append("text").attr("x", 24).attr("y", 14).attr("dy", "0.35em")
    .attr("text-anchor", "middle").attr("font-family", FONT).attr("font-size", 12)
    .attr("fill", "#131722").text("USDT")
svg.append("text").attr("x", 65).attr("y", 17).attr("dy", "0.35em")
    .attr("font-family", FONT).attr("font-size", 14).attr("font-weight", 600)
    .attr("fill", "#131722").attr("textLength", 243).attr("lengthAdjust", "spacingAndGlyphs")
    .text("DOT / TetherUS, 15, BINANCE, Heikin Ashi")
svg.append("text").attr("x", 64).attr("y", 510).attr("dy", "0.35em")
    .attr("font-family", FONT).attr("font-size", 13)
    .attr("fill", "#131722").attr("textLength", 146).attr("lengthAdjust", "spacingAndGlyphs")
    .text("RSI (14, close, SMA, 14, 2)")
svg.append("text").attr("x", 65).attr("y", 765).attr("dy", "0.35em")
    .attr("font-family", FONT).attr("font-size", 13)
    .attr("fill", "#131722").attr("textLength", 198).attr("lengthAdjust", "spacingAndGlyphs")
    .text("MACD (12, 26, close, 9, EMA, EMA)")

// corner buttons
;[[28, "Z"], [2208, "A"]].forEach(([cx, label]) => {
    svg.append("circle").attr("cx", cx).attr("cy", 1081).attr("r", 11).attr("fill", "#f0f3fa")
    svg.append("text").attr("x", cx).attr("y", 1081).attr("dy", "0.35em")
        .attr("text-anchor", "middle").attr("font-family", FONT).attr("font-size", 12)
        .attr("fill", "#131722").text(label)
})
</script>
</body>
</html>
